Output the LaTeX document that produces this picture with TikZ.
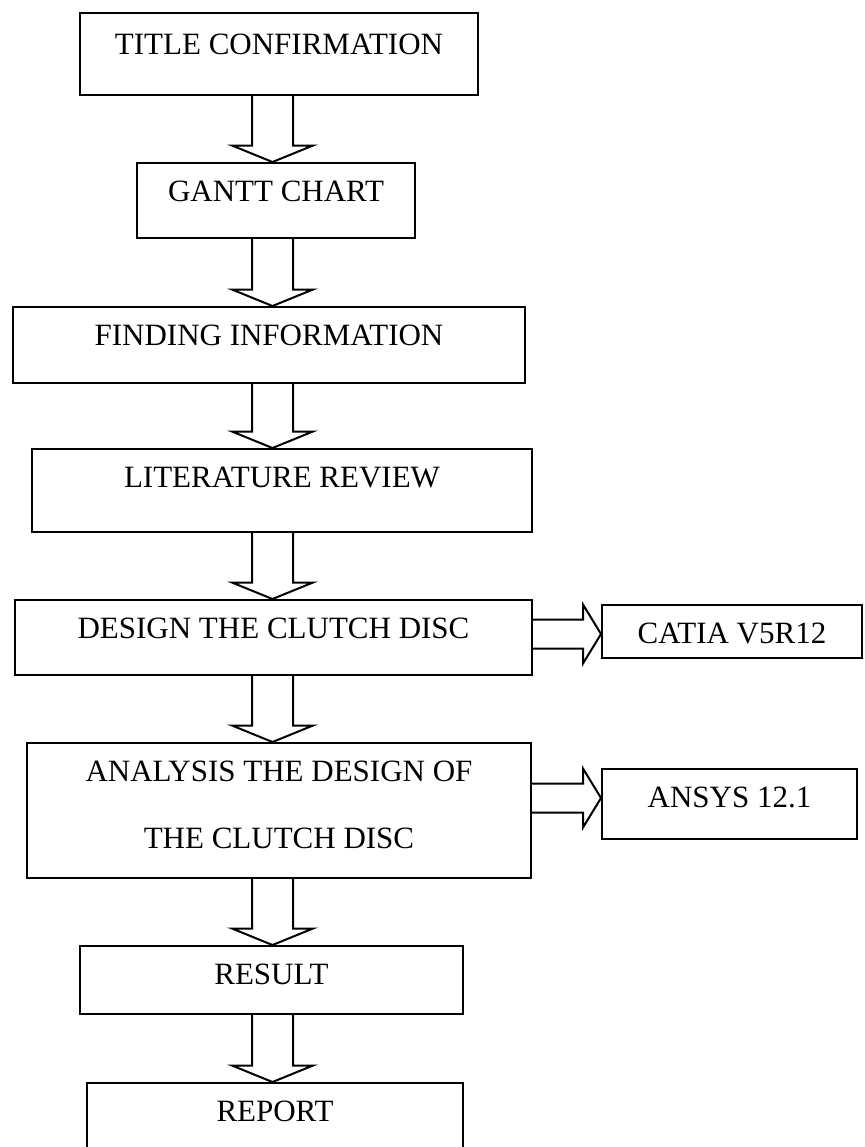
\documentclass[tikz,border=0pt]{standalone}
\usepackage{fontspec}
\setmainfont{Liberation Serif}
\usetikzlibrary{calc}
\tikzstyle{stage}=[draw, line width=1pt, anchor=north, inner xsep=0pt, inner ysep=4pt, text height=15.25pt, font=\fontsize{15.5}{18.6}\selectfont]
\tikzstyle{blockarrow}=[line width=1pt, line join=miter]

\newcommand{\flowdown}[2]{%
  \draw[blockarrow] let \p1=(#1.south -| axis), \p2=(#2.north -| axis) in
    (\x1-10.25pt,\y1) -- (\x1-10.25pt,\y2+8.25pt) -- (\x1-20.25pt,\y2+8.25pt) -- (\x2,\y2)
    -- (\x1+20.25pt,\y2+8.25pt) -- (\x1+10.25pt,\y2+8.25pt) -- (\x1+10.25pt,\y1);}
\newcommand{\flowright}[3]{%
  \draw[blockarrow] let \p1=(#1.east |- #3), \p2=(#2.west |- #3) in
    (\x1,\y1+7.25pt) -- (\x2-9pt,\y1+7.25pt) -- (\x2-9pt,\y1+14.75pt) -- (\x2,\y1)
    -- (\x2-9pt,\y1-14.75pt) -- (\x2-9pt,\y1-7.25pt) -- (\x1,\y1-7.25pt);}

\begin{document}
\begin{tikzpicture}[x=0.5pt, y=-0.5pt]
		   \clip (0,0) rectangle (864,1147);
		   \coordinate (axis) at (272.5,0);
		   \coordinate (row4) at (0,634);
		   \coordinate (row6) at (0,798);
		   \begin{scope}
			   \node (0) at (279,12)[stage, minimum width=199pt, text height=16.75pt, text depth=16.25pt] {TITLE CONFIRMATION};
			   \node (1) at (276,162)[stage, minimum width=139pt, text depth=14.25pt] {GANTT CHART};
			   \node (2) at (269,306)[stage, minimum width=256pt, text depth=14.75pt] {FINDING INFORMATION};
			   \node (3) at (282,448)[stage, minimum width=250pt, text depth=18.25pt] {LITERATURE REVIEW};
			   \node (4) at (273.5,599)[stage, minimum width=258.5pt, text depth=14.25pt] {DESIGN THE CLUTCH DISC};
			   \node (5) at (732,604)[stage, minimum width=130pt, text depth=3.25pt] {CATIA V5R12};
			   \node (6) at (279,742)[stage, minimum width=252pt, align=center, font=\fontsize{15.5}{33.5}\selectfont, text height=48.75pt, text depth=10.75pt] {ANALYSIS THE DESIGN OF\\THE CLUTCH DISC};
			   \node (7) at (729.5,768)[stage, minimum width=127.5pt, text depth=11.75pt] {ANSYS 12.1};
			   \node (8) at (271.5,945)[stage, minimum width=191.5pt, text depth=10.75pt] {RESULT};
			   \node (9) at (275,1082)[stage, minimum width=188pt, text depth=16.75pt] {REPORT};
		   \end{scope}
		   \begin{scope}
			   \flowdown{0}{1}
			   \flowdown{1}{2}
			   \flowdown{2}{3}
			   \flowdown{3}{4}
			   \flowdown{4}{6}
			   \flowdown{6}{8}
			   \flowdown{8}{9}
			   \flowright{4}{5}{row4}
			   \flowright{6}{7}{row6}
		   \end{scope}
	   \end{tikzpicture}
\end{document}
